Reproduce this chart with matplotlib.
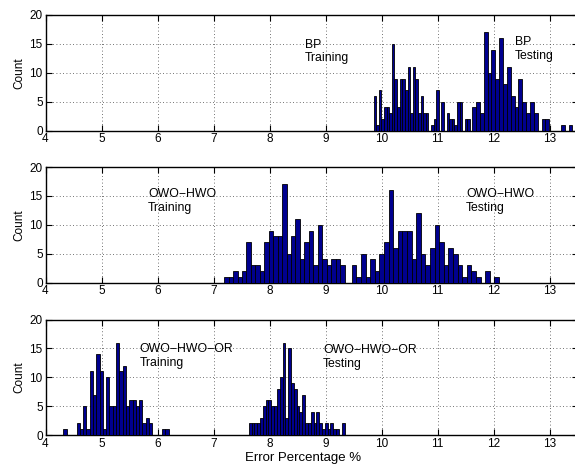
import matplotlib.pyplot as plt
import numpy as np

plt.rcParams['font.family'] = ['Liberation Sans', 'DejaVu Sans']

# histogram data: (first bin edge, last bin edge) and the counts per bin
bp_train_range = (9.86, 11.58)
bp_train = [6, 1, 7, 2, 4, 4, 3, 15, 9, 4, 9, 9, 7, 11, 3, 11, 9, 3, 6, 3,
            3, 0, 1, 2, 7, 0, 5, 0, 3, 2, 2, 1, 5, 5, 0, 2, 2]
bp_test_range = (11.62, 13.41)
bp_test = [4, 5, 3, 17, 10, 14, 9, 16, 8, 11, 6, 4, 9, 5, 3, 5, 3, 0, 2, 2,
           0, 0, 0, 1, 0, 1]

owo_train_range = (7.19, 9.34)
owo_train = [1, 1, 2, 1, 2, 7, 3, 3, 2, 7, 9, 8, 8, 17, 5, 8, 11, 4, 7, 9,
             3, 10, 4, 3, 4, 4, 3]
owo_test_range = (9.47, 12.10)
owo_test = [3, 1, 5, 1, 4, 2, 5, 7, 16, 6, 9, 9, 9, 4, 12, 5, 3, 6, 10, 7,
            3, 6, 5, 3, 1, 3, 2, 1, 0, 2, 0, 1]

or_train_range = (4.32, 6.20)
or_train = [1, 0, 0, 0, 2, 1, 5, 1, 11, 7, 14, 11, 1, 10, 5, 5, 16, 11, 12, 5,
            6, 6, 5, 6, 2, 3, 2, 0, 0, 0, 1, 1]
or_test_range = (7.63, 9.34)
or_test = [2, 2, 2, 2, 3, 5, 6, 6, 5, 5, 8, 10, 16, 3, 15, 9, 8, 5, 4, 7,
           2, 2, 4, 2, 4, 2, 1, 2, 1, 2, 1, 1, 0, 2]

x_ticks = [4, 5, 6, 7, 8, 9, 10, 11, 12, 13]
y_ticks = [0, 5, 10, 15, 20]

panels = [
    (bp_train_range, bp_train, bp_test_range, bp_test,
     ("BP\nTraining", 8.63, 15.9), ("BP\nTesting", 12.38, 16.3)),
    (owo_train_range, owo_train, owo_test_range, owo_test,
     ("OWO\u2212HWO\nTraining", 5.83, 16.4), ("OWO\u2212HWO\nTesting", 11.51, 16.4)),
    (or_train_range, or_train, or_test_range, or_test,
     ("OWO\u2212HWO\u2212OR\nTraining", 5.68, 15.9), ("OWO\u2212HWO\u2212OR\nTesting", 8.96, 15.7)),
]

W, H = 575, 466
fig = plt.figure(figsize=(W / 100, H / 100), dpi=100)

bar_color = (0, 0, 0.5625)


def draw_hist(ax, rng, counts):
    counts = np.array(counts)
    w = (rng[1] - rng[0]) / len(counts)
    left = rng[0] + w * np.arange(len(counts))
    ax.bar(left, counts, width=w, align='edge', color=bar_color,
           edgecolor='black', linewidth=0.6, zorder=3)


tops = [15, 167, 319.5]
for i, (tr, trc, te, tec, lab1, lab2) in enumerate(panels):
    top = tops[i]
    ax = fig.add_axes([45.5 / W, 1 - (top + 115.5) / H, 532 / W, 115.5 / H])
    draw_hist(ax, tr, trc)
    draw_hist(ax, te, tec)
    ax.set_xlim(4, 13.5)
    ax.set_ylim(0, 20)
    ax.set_xticks(x_ticks)
    ax.set_yticks(y_ticks)
    ax.grid(True, linestyle=(0, (1, 3)), color='#444444', linewidth=0.6)
    ax.set_axisbelow(True)
    ax.tick_params(direction='in', top=True, right=True, length=4,
                   labelsize=8.5, pad=2)
    for s in ax.spines.values():
        s.set_linewidth(1.0)
    ax.set_ylabel("Count", fontsize=8.5, labelpad=3)
    for txt, x, y in (lab1, lab2):
        ax.text(x, y, txt, fontsize=8.8, va='top', ha='left', zorder=5)
    if i == 2:
        ax.set_xlabel("Error Percentage %", fontsize=9.5, labelpad=1)
        ax.xaxis.set_label_coords((303 - 45.5) / 532, -0.15)

fig.savefig("out.png", dpi=100)
